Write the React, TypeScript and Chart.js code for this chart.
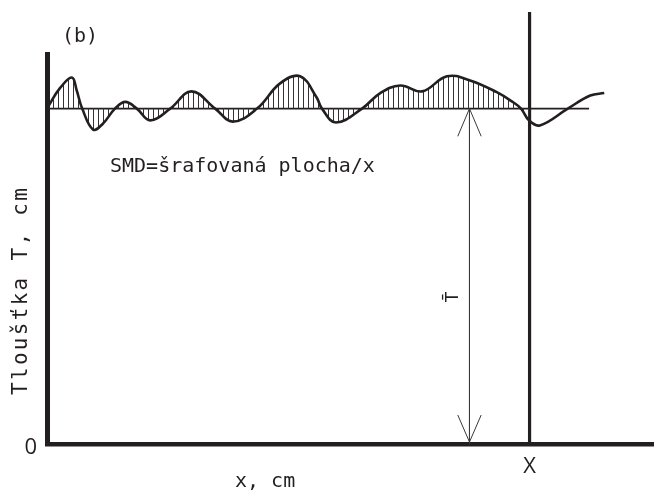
import React, { useEffect, useRef } from "react";
import { Chart, registerables } from "chart.js";

Chart.register(...registerables);

// ---- data (cm) ----
const X_MAX = 10;
const Y_MAX = 9.3;
const T_MEAN = 8;
const X_MARK = 7.95;
const X_MARK_TOP = 10.3;
const ARROW_X = 6.96;
const MEAN_END = 8.93;

const profileX = [
  0.02, 0.21, 0.41, 0.49, 0.58, 0.76, 0.92, 1.12, 1.29, 1.48,
  1.7, 2.03, 2.38, 2.77, 3.06, 3.46, 3.84, 4.17, 4.44, 4.53,
  4.76, 5.19, 5.49, 5.82, 6.18, 6.59, 6.97, 7.41, 7.68, 7.81,
  7.94, 8.12, 8.58, 8.95, 9.18,
];
const profileY = [
  8.05, 8.48, 8.74, 8.43, 8.0, 7.5, 7.64, 8.0, 8.16, 8.0,
  7.72, 8.0, 8.41, 8.0, 7.69, 8.0, 8.6, 8.77, 8.27, 8.0,
  7.67, 8.0, 8.37, 8.55, 8.41, 8.77, 8.67, 8.39, 8.15, 8.0,
  7.72, 7.6, 8.0, 8.31, 8.37,
];

const xTicks = [X_MARK];
const xTickLabels = ["X"];
const yTicks = [0];
const yTickLabels = ["0"];

const TITLE_TEXT = "(b)";
const NOTE_TEXT = "SMD=šrafovaná plocha/x";
const X_TITLE = "x, cm";
const Y_TITLE = "Tloušťka T, cm";
const MEAN_LABEL = "T\u0304";

const INK = "#231f20";
const MONO = "'DejaVu Sans Mono', monospace";

function hatchPattern(chart: any): any {
  const area = chart.chartArea;
  const xs = chart.scales && chart.scales.x;
  if (!area || !xs) return "rgba(0,0,0,0)";
  const stop = xs.getPixelForValue(X_MARK);
  const c = document.createElement("canvas");
  c.width = chart.width;
  c.height = 2;
  const g = c.getContext("2d")!;
  g.fillStyle = "#333333";
  for (let px = Math.round(area.left) + 1; px < stop; px += 5) {
    g.fillRect(px, 0, 1, 2);
  }
  return chart.ctx.createPattern(c, "repeat");
}

const annotations = {
  id: "annotations",
  afterDraw(chart: any) {
    const { ctx } = chart;
    const xs = chart.scales.x;
    const ys = chart.scales.y;
    ctx.save();
    // arrowheads of the mean-thickness arrow
    const ax = xs.getPixelForValue(ARROW_X);
    const yTop = ys.getPixelForValue(T_MEAN);
    const yBot = ys.getPixelForValue(0) - 2.5;
    ctx.strokeStyle = "#3a3a3a";
    ctx.lineWidth = 1;
    ctx.beginPath();
    ctx.moveTo(ax - 11.7, yTop + 27.7);
    ctx.lineTo(ax, yTop);
    ctx.lineTo(ax + 11.7, yTop + 27.7);
    ctx.moveTo(ax - 11.7, yBot - 27);
    ctx.lineTo(ax, yBot);
    ctx.lineTo(ax + 11.7, yBot - 27);
    ctx.stroke();

    ctx.fillStyle = INK;
    // (b)
    ctx.font = `20px ${MONO}`;
    ctx.textAlign = "center";
    ctx.textBaseline = "middle";
    ctx.fillText(TITLE_TEXT, 80, 36.5);
    // note
    ctx.textAlign = "left";
    ctx.textBaseline = "alphabetic";
    ctx.fillText(NOTE_TEXT, 110, 171.5);
    // x title
    ctx.fillText(X_TITLE, 235, 487);
    // y title
    ctx.save();
    ctx.translate(22, 395);
    ctx.rotate(-Math.PI / 2);
    ctx.textAlign = "left";
    ctx.textBaseline = "middle";
    ctx.font = `21px ${MONO}`;
    (ctx as any).letterSpacing = "2.3px";
    ctx.fillText(Y_TITLE, 0, 0);
    (ctx as any).letterSpacing = "0px";
    ctx.restore();
    // mean label
    ctx.save();
    ctx.translate(ax - 16, 297);
    ctx.rotate(-Math.PI / 2);
    ctx.textAlign = "center";
    ctx.textBaseline = "middle";
    ctx.font = `18px ${MONO}`;
    ctx.fillText(MEAN_LABEL, 0, 0);
    ctx.restore();
    ctx.restore();
  },
};

export default function App() {
  const ref = useRef<HTMLCanvasElement | null>(null);

  useEffect(() => {
    if (!ref.current) return;
    const profile = profileX.map((x, i) => ({ x, y: profileY[i] }));
    const chart = new Chart(ref.current, {
      type: "line",
      data: {
        datasets: [
          {
            data: profile,
            borderColor: INK,
            borderWidth: 2.6,
            pointRadius: 0,
            tension: 0.4,
            fill: { value: T_MEAN },
            backgroundColor: (c: any) => hatchPattern(c.chart),
          } as any,
          {
            data: [
              { x: 0, y: T_MEAN },
              { x: MEAN_END, y: T_MEAN },
            ],
            borderColor: INK,
            borderWidth: 1.8,
            pointRadius: 0,
            fill: false,
          },
          {
            data: [
              { x: X_MARK, y: 0 },
              { x: X_MARK, y: X_MARK_TOP },
            ],
            borderColor: INK,
            borderWidth: 3.2,
            pointRadius: 0,
            fill: false,
            clip: false,
          } as any,
          {
            data: [
              { x: ARROW_X, y: T_MEAN },
              { x: ARROW_X, y: 0 },
            ],
            borderColor: "#3a3a3a",
            borderWidth: 1,
            pointRadius: 0,
            fill: false,
          },
        ],
      },
      options: {
        animation: false,
        responsive: false,
        devicePixelRatio: 1,
        layout: { padding: { top: 54, left: 0, right: 0, bottom: 0 } },
        plugins: {
          legend: { display: false },
          tooltip: { enabled: false },
        },
        scales: {
          x: {
            type: "linear",
            position: "bottom",
            min: 0,
            max: X_MAX,
            grid: { display: false, drawTicks: false },
            border: { display: true, color: INK, width: 4.5 },
            afterBuildTicks: (s: any) => {
              s.ticks = xTicks.map((v) => ({ value: v }));
            },
            afterFit: (s: any) => {
              s.height = 50.5;
            },
            ticks: {
              autoSkip: false,
              maxRotation: 0,
              padding: 9,
              color: INK,
              font: { family: "'Open Sans', sans-serif", size: 22 },
              callback: (_v: any, i: number) => xTickLabels[i],
            },
          },
          y: {
            type: "linear",
            min: 0,
            max: Y_MAX,
            grid: { display: false, drawTicks: false },
            border: { display: true, color: INK, width: 5 },
            afterBuildTicks: (s: any) => {
              s.ticks = yTicks.map((v) => ({ value: v }));
            },
            afterFit: (s: any) => {
              s.width = 47;
            },
            ticks: {
              autoSkip: false,
              padding: 10,
              labelOffset: 3.5,
              color: INK,
              font: { family: "'Open Sans', sans-serif", size: 22 },
              callback: (_v: any, i: number) => yTickLabels[i],
            },
          },
        },
      } as any,
      plugins: [annotations],
    });
    return () => chart.destroy();
  }, []);

  return (
    <div style={{ position: "absolute", left: 0, top: 0, width: 654, height: 495, background: "#fff" }}>
      <canvas ref={ref} width={654} height={495} style={{ width: 654, height: 495, display: "block" }} />
    </div>
  );
}
